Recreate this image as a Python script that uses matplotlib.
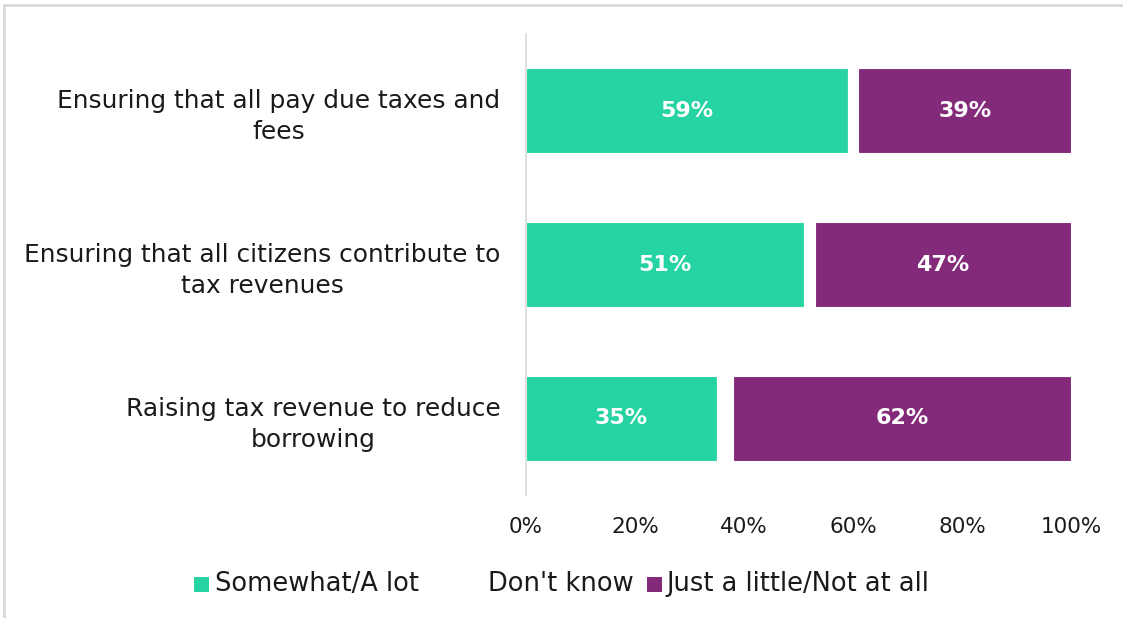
import matplotlib
matplotlib.use("Agg")
import matplotlib.pyplot as plt
from matplotlib.lines import Line2D
from matplotlib.patches import Rectangle

categories = ["Ensuring that all pay due taxes and\nfees",
              "Ensuring that all citizens contribute to\ntax revenues",
              "Raising tax revenue to reduce\nborrowing"]
somewhat = [59, 51, 35]
dont_know = [2, 2, 3]
little = [39, 47, 62]
series_names = ["Somewhat/A lot", "Don't know", "Just a little/Not at all"]
ticks = [0, 20, 40, 60, 80, 100]
tick_labels = ["0%", "20%", "40%", "60%", "80%", "100%"]

c_teal = "#26D3A3"
c_dk = "#FFFFFF"
c_purple = "#842A7A"
colors = [c_teal, c_dk, c_purple]

plt.rcParams['font.family'] = ['DejaVu Sans']

W, H = 1123, 618
fig = plt.figure(figsize=(W / 100, H / 100), dpi=100)
ax = fig.add_axes([0.4684, 0.199, 0.4853, 0.746])

y = list(range(len(categories)))
h = 0.555
ax.barh(y, somewhat, height=h, color=c_teal, edgecolor="white", linewidth=0.8)
left2 = somewhat
ax.barh(y, dont_know, left=left2, height=h, color=c_dk, edgecolor="white", linewidth=0.8)
left3 = [a + b for a, b in zip(somewhat, dont_know)]
ax.barh(y, little, left=left3, height=h, color=c_purple, edgecolor="white", linewidth=0.8)

for i in y:
    ax.text(somewhat[i] / 2, i, f"{somewhat[i]}%", ha="center", va="center",
            color="white", fontsize=16, fontweight="bold")
    ax.text(left3[i] + little[i] / 2, i, f"{little[i]}%", ha="center", va="center",
            color="white", fontsize=16, fontweight="bold")

ax.set_xlim(0, 100)
ax.set_ylim(2.5, -0.5)
ax.set_xticks(ticks)
ax.set_xticklabels(tick_labels, fontsize=15.5, color="#1a1a1a")
ax.set_yticks(y)
ax.set_yticklabels(categories, fontsize=17.9, color="#1a1a1a", ha="right",
                   multialignment="center", linespacing=1.36)
ax.tick_params(axis="y", length=0, pad=18.5)
ax.tick_params(axis="x", length=0, pad=16)
for s in ["top", "right", "bottom"]:
    ax.spines[s].set_visible(False)
ax.spines["left"].set_color("#D9D9D9")
ax.spines["left"].set_linewidth(1.2)

# legend, drawn manually to match the uneven spacing of the original
leg_handle_x = [194, 468, 647]
leg_text_x = [215, 488, 666]
leg_yc = 584
sq = 15
for name, col, hx, tx in zip(series_names, colors, leg_handle_x, leg_text_x):
    fig.add_artist(Rectangle((hx / W, 1 - (leg_yc + sq / 2) / H), sq / W, sq / H,
                             transform=fig.transFigure, facecolor=col,
                             edgecolor="none"))
    fig.text(tx / W, 1 - leg_yc / H, name, ha="left", va="center",
             fontsize=18.5, color="#1a1a1a")

# outer frame (top and left visible)
fig.add_artist(Line2D([0.0036, 1.0], [0.9925, 0.9925], transform=fig.transFigure,
                      color="#D9D9D9", linewidth=2))
fig.add_artist(Line2D([0.0036, 0.0036], [0.0, 0.9925], transform=fig.transFigure,
                      color="#D9D9D9", linewidth=2))

fig.savefig("out.png", dpi=100)
